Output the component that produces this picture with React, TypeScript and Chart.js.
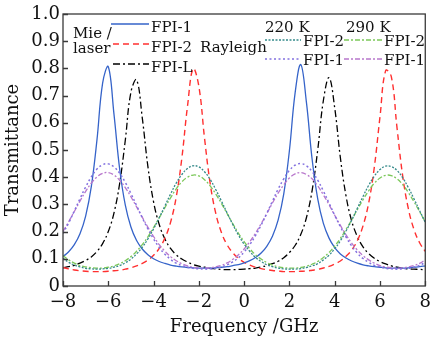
import React, { useEffect, useRef } from "react";
import { Chart, registerables } from "chart.js";

Chart.register(...registerables);

// Frequency grid (GHz)
const frequencyGHz = [
  -8, -7.75, -7.5, -7.25, -7, -6.75, -6.5, -6.25, -6, -5.75, -5.5, -5.25, -5,
  -4.75, -4.5, -4.25, -4, -3.75, -3.5, -3.25, -3, -2.75, -2.5, -2.25, -2, -1.75,
  -1.5, -1.25, -1, -0.75, -0.5, -0.25, 0, 0.25, 0.5, 0.75, 1, 1.25, 1.5,
  1.75, 2, 2.25, 2.5, 2.75, 3, 3.25, 3.5, 3.75, 4, 4.25, 4.5, 4.75,
  5, 5.25, 5.5, 5.75, 6, 6.25, 6.5, 6.75, 7, 7.25, 7.5, 7.75, 8,
];

// Mie / laser
const laserFpi1 = [
  0.108, 0.126, 0.152, 0.192, 0.257, 0.365, 0.537, 0.746, 0.806, 0.633, 0.432, 0.298, 0.217,
  0.167, 0.136, 0.115, 0.100, 0.090, 0.083, 0.077, 0.073, 0.070, 0.068, 0.067, 0.066, 0.066,
  0.066, 0.067, 0.069, 0.071, 0.075, 0.079, 0.085, 0.093, 0.105, 0.121, 0.146, 0.183, 0.242,
  0.339, 0.498, 0.709, 0.814, 0.676, 0.468, 0.320, 0.230, 0.176, 0.141, 0.118, 0.103, 0.092,
  0.084, 0.078, 0.074, 0.071, 0.069, 0.067, 0.066, 0.066, 0.066, 0.067, 0.069, 0.071, 0.074,
];
const laserFpi2 = [
  0.068, 0.063, 0.059, 0.056, 0.054, 0.053, 0.053, 0.053, 0.054, 0.056, 0.058, 0.062, 0.067,
  0.074, 0.083, 0.095, 0.113, 0.138, 0.176, 0.234, 0.327, 0.471, 0.662, 0.799, 0.734, 0.544,
  0.377, 0.266, 0.196, 0.151, 0.122, 0.101, 0.087, 0.077, 0.069, 0.064, 0.060, 0.057, 0.055,
  0.053, 0.053, 0.053, 0.054, 0.055, 0.058, 0.061, 0.066, 0.072, 0.081, 0.092, 0.109, 0.132,
  0.167, 0.221, 0.305, 0.437, 0.622, 0.792, 0.770, 0.583, 0.406, 0.285, 0.208, 0.159, 0.127,
];
const laserFpiL = [
  0.067, 0.071, 0.076, 0.084, 0.094, 0.107, 0.127, 0.156, 0.200, 0.268, 0.376, 0.535, 0.713,
  0.758, 0.619, 0.439, 0.309, 0.226, 0.173, 0.138, 0.115, 0.099, 0.088, 0.079, 0.073, 0.069,
  0.065, 0.063, 0.061, 0.060, 0.060, 0.061, 0.062, 0.064, 0.066, 0.070, 0.075, 0.082, 0.091,
  0.104, 0.123, 0.149, 0.189, 0.251, 0.350, 0.500, 0.682, 0.766, 0.655, 0.472, 0.331, 0.239,
  0.182, 0.144, 0.119, 0.102, 0.090, 0.081, 0.074, 0.069, 0.066, 0.063, 0.062, 0.061, 0.060,
];

// Rayleigh 220 K
const rayleigh220Fpi2 = [
  0.102, 0.087, 0.077, 0.070, 0.065, 0.063, 0.062, 0.063, 0.065, 0.069, 0.075, 0.085, 0.099,
  0.118, 0.142, 0.173, 0.210, 0.251, 0.294, 0.338, 0.378, 0.410, 0.432, 0.442, 0.438, 0.420,
  0.392, 0.354, 0.312, 0.268, 0.226, 0.187, 0.154, 0.127, 0.105, 0.090, 0.078, 0.071, 0.066,
  0.063, 0.062, 0.062, 0.064, 0.068, 0.074, 0.082, 0.096, 0.113, 0.137, 0.166, 0.202, 0.242,
  0.286, 0.329, 0.370, 0.404, 0.428, 0.441, 0.439, 0.425, 0.398, 0.362, 0.321, 0.277, 0.234,
];
const rayleigh220Fpi1 = [
  0.193, 0.232, 0.276, 0.321, 0.364, 0.401, 0.430, 0.446, 0.449, 0.438, 0.415, 0.381, 0.340,
  0.296, 0.251, 0.210, 0.173, 0.142, 0.117, 0.098, 0.084, 0.075, 0.069, 0.065, 0.063, 0.062,
  0.063, 0.066, 0.070, 0.078, 0.089, 0.104, 0.125, 0.152, 0.185, 0.224, 0.267, 0.312, 0.356,
  0.394, 0.425, 0.444, 0.450, 0.442, 0.421, 0.389, 0.349, 0.305, 0.260, 0.218, 0.180, 0.147,
  0.121, 0.101, 0.087, 0.076, 0.070, 0.065, 0.063, 0.062, 0.063, 0.065, 0.069, 0.076, 0.087,
];

// Rayleigh 290 K
const rayleigh290Fpi2 = [
  0.112, 0.096, 0.084, 0.075, 0.070, 0.067, 0.066, 0.066, 0.069, 0.074, 0.082, 0.093, 0.108,
  0.128, 0.152, 0.181, 0.215, 0.251, 0.288, 0.324, 0.357, 0.383, 0.400, 0.408, 0.405, 0.391,
  0.368, 0.338, 0.303, 0.266, 0.229, 0.194, 0.163, 0.137, 0.115, 0.099, 0.086, 0.077, 0.071,
  0.067, 0.066, 0.066, 0.068, 0.073, 0.080, 0.090, 0.105, 0.123, 0.147, 0.175, 0.208, 0.243,
  0.281, 0.317, 0.350, 0.378, 0.397, 0.407, 0.406, 0.394, 0.373, 0.344, 0.310, 0.273, 0.236,
];
const rayleigh290Fpi1 = [
  0.201, 0.236, 0.274, 0.312, 0.348, 0.378, 0.401, 0.414, 0.417, 0.408, 0.389, 0.362, 0.328,
  0.291, 0.253, 0.216, 0.182, 0.152, 0.128, 0.108, 0.093, 0.082, 0.074, 0.069, 0.066, 0.066,
  0.067, 0.071, 0.076, 0.085, 0.098, 0.115, 0.136, 0.163, 0.194, 0.229, 0.266, 0.305, 0.341,
  0.372, 0.397, 0.412, 0.417, 0.410, 0.394, 0.368, 0.335, 0.299, 0.260, 0.223, 0.188, 0.158,
  0.132, 0.112, 0.096, 0.084, 0.075, 0.070, 0.067, 0.066, 0.067, 0.070, 0.075, 0.083, 0.096,
];

const xTickValues = [-8, -6, -4, -2, 0, 2, 4, 6, 8];
const yTickValues = [0, 0.1, 0.2, 0.3, 0.4, 0.5, 0.6, 0.7, 0.8, 0.9, 1.0];

const FONT = '"DejaVu Serif", serif';
const TEXT = "#111";

const C_BLUE = "#3563c9";
const C_RED = "#ff3030";
const C_BLACK = "#000000";
const C_TEAL = "#358a8a";
const C_GREEN = "#7cc85a";
const C_PURPLE = "#8270e0";
const C_MAGENTA = "#b877cc";

const D_DASH = [6, 4];
const D_DASHDOT = [7, 3, 2, 3];
const D_DOT_FINE = [2, 1.5];
const D_DOT = [2, 2.5];
const D_DASHDOT_S = [5, 2, 2, 2];

export default function App() {
  const ref = useRef<HTMLCanvasElement>(null);

  useEffect(() => {
    const canvas = ref.current;
    if (!canvas) return;
    const pts = (vals: number[]) => frequencyGHz.map((x, i) => ({ x, y: vals[i] }));

    const ds = (label: string, vals: number[], color: string, dash: number[], width: number) => ({
      label,
      data: pts(vals),
      borderColor: color,
      backgroundColor: color,
      borderDash: dash,
      borderWidth: width,
      pointRadius: 0,
      tension: 0.4,
      fill: false,
    });

    const framePlugin = {
      id: "frameAndLegend",
      afterDraw(chart: any) {
        const ctx = chart.ctx as CanvasRenderingContext2D;
        const { left, right, top, bottom } = chart.chartArea;
        const xs = chart.scales.x;
        const ys = chart.scales.y;
        ctx.save();
        ctx.strokeStyle = "#3a3a3a";
        ctx.lineWidth = 1.3;
        ctx.setLineDash([]);
        ctx.strokeRect(left, top, right - left, bottom - top);
        ctx.beginPath();
        for (const v of yTickValues) {
          const y = Math.round(ys.getPixelForValue(v)) + 0.5;
          ctx.moveTo(left, y);
          ctx.lineTo(left + 5, y);
        }
        for (const v of xTickValues) {
          const x = Math.round(xs.getPixelForValue(v)) + 0.5;
          ctx.moveTo(x, bottom);
          ctx.lineTo(x, bottom - 5);
        }
        ctx.stroke();

        // legend
        const line = (x1: number, x2: number, y: number, color: string, dash: number[], w: number) => {
          ctx.beginPath();
          ctx.strokeStyle = color;
          ctx.lineWidth = w;
          ctx.setLineDash(dash);
          ctx.moveTo(x1, y);
          ctx.lineTo(x2, y);
          ctx.stroke();
        };
        ctx.fillStyle = TEXT;
        ctx.font = `15px ${FONT}`;
        ctx.textBaseline = "alphabetic";
        ctx.textAlign = "left";
        ctx.fillText("Mie /", 73, 38);
        ctx.fillText("laser", 73, 53);
        ctx.fillText("FPI-1", 151, 32);
        ctx.fillText("FPI-2", 151, 52);
        ctx.fillText("FPI-L", 151, 72);
        ctx.fillText("Rayleigh", 200, 52);
        ctx.fillText("220 K", 265, 32);
        ctx.fillText("290 K", 346, 32);
        ctx.fillText("FPI-2", 303, 46);
        ctx.fillText("FPI-1", 303, 65);
        ctx.fillText("FPI-2", 384, 46);
        ctx.fillText("FPI-1", 384, 65);

        line(111, 149, 24, C_BLUE, [], 1.3);
        line(113, 149, 44, C_RED, D_DASH, 1.4);
        line(113, 149, 64, C_BLACK, D_DASHDOT, 1.3);
        line(265, 301, 40, C_TEAL, D_DOT_FINE, 1.3);
        line(265, 301, 59, C_PURPLE, D_DOT, 1.5);
        line(344, 382, 40, C_GREEN, D_DASHDOT_S, 1.3);
        line(344, 382, 59, C_MAGENTA, D_DASHDOT_S, 1.3);
        ctx.restore();
      },
    };

    const chart = new Chart(canvas, {
      type: "line",
      data: {
        datasets: [
          ds("Rayleigh 220 K FPI-2", rayleigh220Fpi2, C_TEAL, D_DOT_FINE, 1.3),
          ds("Rayleigh 290 K FPI-2", rayleigh290Fpi2, C_GREEN, D_DASHDOT_S, 1.3),
          ds("Rayleigh 220 K FPI-1", rayleigh220Fpi1, C_PURPLE, D_DOT, 1.5),
          ds("Rayleigh 290 K FPI-1", rayleigh290Fpi1, C_MAGENTA, D_DASHDOT_S, 1.3),
          ds("Mie/laser FPI-1", laserFpi1, C_BLUE, [], 1.3),
          ds("Mie/laser FPI-2", laserFpi2, C_RED, D_DASH, 1.4),
          ds("Mie/laser FPI-L", laserFpiL, C_BLACK, D_DASHDOT, 1.3),
        ] as any,
      },
      options: {
        responsive: false,
        animation: false,
        devicePixelRatio: 1,
        layout: { padding: { left: 0, right: 10, top: 14, bottom: 0 } },
        plugins: { legend: { display: false }, tooltip: { enabled: false } },
        scales: {
          x: {
            type: "linear",
            min: -8,
            max: 8,
            afterBuildTicks: (s: any) => {
              s.ticks = xTickValues.map((v) => ({ value: v }));
            },
            ticks: {
              callback: (v: any) => (v < 0 ? "\u2212" + Math.abs(v) : String(v)),
              font: { family: FONT, size: 18 },
              color: TEXT,
              padding: 6,
              maxRotation: 0,
              autoSkip: false,
            },
            grid: { display: false, drawTicks: false },
            border: { display: false },
            title: {
              display: true,
              text: "Frequency /GHz",
              font: { family: FONT, size: 18 },
              color: TEXT,
              padding: { top: 0, bottom: 4 },
            },
            afterFit: (s: any) => {
              s.height = 56;
            },
          },
          y: {
            type: "linear",
            min: 0,
            max: 1,
            afterBuildTicks: (s: any) => {
              s.ticks = yTickValues.map((v) => ({ value: v }));
            },
            ticks: {
              callback: (v: any) => (v === 0 ? "0" : Number(v).toFixed(1)),
              font: { family: FONT, size: 18 },
              color: TEXT,
              padding: 3,
              autoSkip: false,
            },
            grid: { display: false, drawTicks: false },
            border: { display: false },
            title: {
              display: true,
              text: "Transmittance",
              font: { family: FONT, size: 18 },
              color: TEXT,
              padding: { top: 3, bottom: 0 },
            },
            afterFit: (s: any) => {
              s.width = 63;
            },
          },
        },
      } as any,
      plugins: [framePlugin],
    });

    return () => chart.destroy();
  }, []);

  return (
    <div style={{ position: "fixed", left: 0, top: 0, width: 437, height: 342, background: "#fff" }}>
      <canvas ref={ref} width={437} height={342} style={{ display: "block" }} />
    </div>
  );
}
